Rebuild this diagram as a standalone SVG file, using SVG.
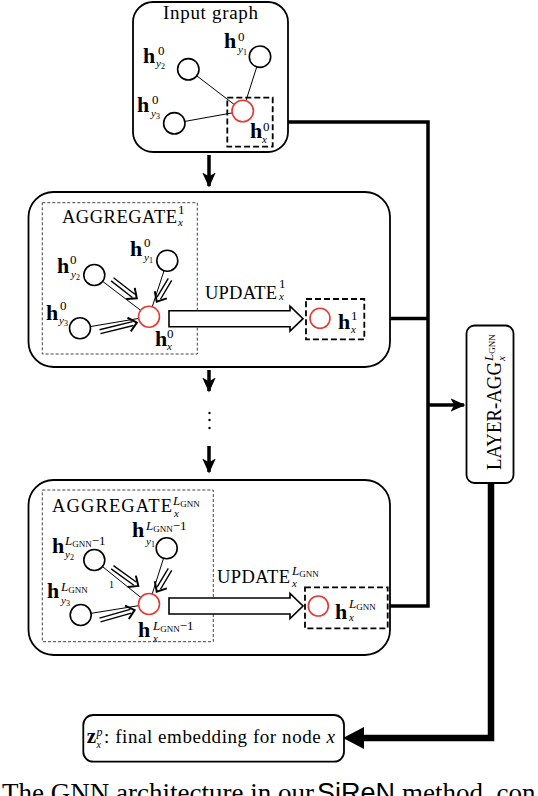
<svg xmlns="http://www.w3.org/2000/svg" width="538" height="796" viewBox="0 0 538 796">
<style>
.box{fill:#fff;stroke:#000;stroke-width:1.8}
.dash{fill:none;stroke:#000;stroke-width:1.8;stroke-dasharray:6 3}
.fdash{fill:none;stroke:#444;stroke-width:1;stroke-dasharray:3 2}
.nd{fill:#fff;stroke:#000;stroke-width:1.6}
.rd{fill:#fff;stroke:#e53935;stroke-width:1.6}
.edge{stroke:#000;stroke-width:1;fill:none}
.thick{fill:none;stroke:#000;stroke-width:3.5;stroke-linejoin:miter}
.dbl{fill:none;stroke:#000;stroke-width:1.4}
.dblh{fill:none;stroke:#000;stroke-width:2}
.upd{fill:#fff;stroke:#000;stroke-width:1.6}
.t{font-family:"Liberation Serif","DejaVu Serif",serif;fill:#000}
.h{font-weight:bold;font-size:22px}
.sup{font-size:13px}
.sub{font-size:11px;font-style:italic}
.ss{font-size:8px;font-style:normal}
.lbl{font-size:18.5px}
.it{font-style:italic}
.sc{font-size:9px}
</style>
<defs>
<marker id="arr" viewBox="0 0 10 10" refX="9" refY="5" markerWidth="15" markerHeight="15" markerUnits="userSpaceOnUse" orient="auto">
<path d="M0,0.5 L10,5 L0,9.5 L2.5,5 Z" fill="#000"/>
</marker>
</defs>
<rect width="538" height="796" fill="#fff"/>

<g id="connectors">
<path class="thick" d="M272,122 H428 V606 H388"/>
<path class="thick" d="M364,318.5 H428"/>
<line class="thick" x1="428" y1="405" x2="464" y2="405" marker-end="url(#arr)"/>
<line class="thick" x1="209" y1="155" x2="209" y2="186" marker-end="url(#arr)"/>
<line class="thick" x1="209" y1="370" x2="209" y2="391" marker-end="url(#arr)"/>
<line class="thick" x1="209" y1="446" x2="209" y2="472" marker-end="url(#arr)"/>
<path d="M491,483 V738 H360" fill="none" stroke="#000" stroke-width="6.5"/>
<path d="M364,727 L343,738 L364,749 Z" fill="#000"/>
<g id="vdots" fill="#000">
<circle cx="209.5" cy="413" r="1.2"/>
<circle cx="209.5" cy="420" r="1.2"/>
<circle cx="209.5" cy="428" r="1.2"/>
</g>
</g>

<g id="input-graph">
<rect class="box" x="133" y="2" width="155" height="150" rx="20"/>
<text class="t" x="163" y="19" font-size="19" textLength="95">Input graph</text>
<line class="edge" x1="188.3" y1="69.3" x2="242.7" y2="111"/>
<line class="edge" x1="260" y1="56.7" x2="242.7" y2="111"/>
<line class="edge" x1="174.3" y1="123.3" x2="242.7" y2="111"/>
<rect class="dash" x="227.3" y="97.7" width="45.4" height="49"/>
<circle class="nd" cx="188.3" cy="69.3" r="10.7"/>
<circle class="nd" cx="260" cy="56.7" r="10.7"/>
<circle class="nd" cx="174.3" cy="123.3" r="10.7"/>
<circle class="rd" cx="242.7" cy="111" r="10.7"/>
<text class="t h" x="143" y="63">h</text><text class="t sup" x="158" y="55">0</text><text class="t sub" x="156" y="67">y<tspan class="ss" dy="2">2</tspan></text>
<text class="t h" x="224" y="48">h</text><text class="t sup" x="238" y="41">0</text><text class="t sub" x="238" y="53">y<tspan class="ss" dy="2">1</tspan></text>
<text class="t h" x="137" y="112">h</text><text class="t sup" x="152" y="104">0</text><text class="t sub" x="151" y="117">y<tspan class="ss" dy="2">3</tspan></text>
<text class="t h" x="250" y="138">h</text><text class="t sup" x="263" y="131">0</text><text class="t sub" x="262" y="143">x</text>
</g>

<g id="layer-1">
<rect class="box" x="28.5" y="192" width="361.5" height="175" rx="25"/>
<rect class="fdash" x="42.3" y="202.7" width="155" height="151.3"/>
<text class="t lbl" x="62" y="223" textLength="115">AGGREGATE</text><text class="t sup" x="178" y="214">1</text><text class="t sub" x="178" y="226">x</text>
<line class="edge" x1="94.3" y1="275" x2="149" y2="316.7"/>
<line class="edge" x1="167.3" y1="260.7" x2="149" y2="316.7"/>
<line class="edge" x1="80" y1="328.3" x2="149" y2="316.7"/>
<circle class="nd" cx="94.3" cy="275" r="10.5"/>
<circle class="nd" cx="167.3" cy="260.7" r="10.5"/>
<circle class="nd" cx="80" cy="328.3" r="10.5"/>
<circle class="rd" cx="149" cy="316.7" r="10.5"/>
<g transform="translate(112.3,279.3) rotate(37.9)"><path class="dbl" d="M0,-2H27M0,2H27"/><path class="dblh" d="M23,-7L31,0L23,7"/></g>
<g transform="translate(170,279.3) rotate(120.7)"><path class="dbl" d="M0,-2H22M0,2H22"/><path class="dblh" d="M18,-7L26,0L18,7"/></g>
<g transform="translate(100,331.7) rotate(-13.8)"><path class="dbl" d="M0,-2H34M0,2H34"/><path class="dblh" d="M30,-7L38,0L30,7"/></g>
<text class="t h" x="57" y="273">h</text><text class="t sup" x="70" y="264">0</text><text class="t sub" x="71" y="278">y<tspan class="ss" dy="2">2</tspan></text>
<text class="t h" x="130" y="256">h</text><text class="t sup" x="144" y="247">0</text><text class="t sub" x="144" y="261">y<tspan class="ss" dy="2">1</tspan></text>
<text class="t h" x="46" y="320">h</text><text class="t sup" x="60" y="310">0</text><text class="t sub" x="59" y="324">y<tspan class="ss" dy="2">3</tspan></text>
<text class="t h" x="155" y="346">h</text><text class="t sup" x="167" y="338">0</text><text class="t sub" x="167" y="350">x</text>
<path class="upd" d="M169,310.7 H290 V306.2 L303,318.7 L290,331.2 V326.7 H169 Z"/>
<text class="t lbl" x="205" y="299" textLength="72">UPDATE</text><text class="t sup" x="279" y="288">1</text><text class="t sub" x="279" y="300">x</text>
<rect class="dash" x="306" y="299" width="58.3" height="40.3"/>
<circle class="rd" cx="320" cy="318.3" r="10"/>
<text class="t h" x="338" y="329">h</text><text class="t sup" x="351" y="320">1</text><text class="t sub" x="351" y="333">x</text>
</g>

<g id="layer-L">
<rect class="box" x="28.5" y="480" width="361.5" height="175" rx="25"/>
<rect class="fdash" x="42.3" y="490" width="171" height="151.7"/>
<text class="t lbl" x="52" y="512" textLength="120">AGGREGATE</text><text class="t sup" x="173" y="505"><tspan class="it">L</tspan><tspan class="sc" dy="1.5">GNN</tspan></text><text class="t sub" x="174" y="517">x</text>
<line class="edge" x1="94.3" y1="560" x2="149" y2="604"/>
<line class="edge" x1="166.7" y1="548.3" x2="149" y2="604"/>
<line class="edge" x1="80.7" y1="615" x2="149" y2="604"/>
<text class="t h" x="132" y="537">h</text><text class="t sup" x="146" y="530"><tspan class="it">L</tspan><tspan class="sc" dy="1.5">GNN</tspan><tspan dy="-1.5">−1</tspan></text><text class="t sub" x="146" y="545">y<tspan class="ss" dy="2">1</tspan></text>
<circle class="nd" cx="94.3" cy="560" r="10.5"/>
<circle class="nd" cx="166.7" cy="548.3" r="10.5"/>
<circle class="nd" cx="80.7" cy="615" r="10.5"/>
<circle class="rd" cx="149" cy="604" r="10.5"/>
<g transform="translate(112.3,567.3) rotate(35.7)"><path class="dbl" d="M0,-2H28M0,2H28"/><path class="dblh" d="M24,-7L32,0L24,7"/></g>
<g transform="translate(170,569.3) rotate(120.7)"><path class="dbl" d="M0,-2H22M0,2H22"/><path class="dblh" d="M18,-7L26,0L18,7"/></g>
<g transform="translate(100,620) rotate(-15.9)"><path class="dbl" d="M0,-2H32M0,2H32"/><path class="dblh" d="M28,-7L36,0L28,7"/></g>
<text class="t h" x="52" y="553">h</text><text class="t sup" x="65" y="545"><tspan class="it">L</tspan><tspan class="sc" dy="1.5">GNN</tspan><tspan dy="-1.5">−1</tspan></text><text class="t sub" x="65" y="558">y<tspan class="ss" dy="2">2</tspan></text>
<text class="t h" x="47" y="598">h</text><text class="t sup" x="61" y="591" fill="#555"><tspan class="it">L</tspan><tspan class="sc" dy="1.5">GNN</tspan></text><text class="t sub" x="61" y="604">y<tspan class="ss" dy="2">3</tspan></text>
<text class="t" x="109" y="588" font-size="10">1</text>
<text class="t h" x="138" y="637">h</text><text class="t sup" x="153" y="630"><tspan class="it">L</tspan><tspan class="sc" dy="1.5">GNN</tspan><tspan dy="-1.5">−1</tspan></text><text class="t sub" x="153" y="642">x</text>
<path class="upd" d="M169,598 H290 V593.5 L303,606 L290,618.5 V614 H169 Z"/>
<text class="t lbl" x="217" y="583" textLength="73">UPDATE</text><text class="t sup" x="292" y="575"><tspan class="it">L</tspan><tspan class="sc" dy="1.5">GNN</tspan></text><text class="t sub" x="292" y="587">x</text>
<rect class="dash" x="305" y="587.3" width="82.7" height="41"/>
<circle class="rd" cx="318.3" cy="606" r="10"/>
<text class="t h" x="335" y="619">h</text><text class="t sup" x="349" y="608"><tspan class="it">L</tspan><tspan class="sc" dy="1.5">GNN</tspan></text><text class="t sub" x="349" y="621">x</text>
</g>

<g id="layer-agg">
<rect class="box" x="466.5" y="325.5" width="47" height="157.5" rx="8"/>
<g transform="translate(501,470) rotate(-90)">
<text class="t" x="0" y="0" font-size="20" textLength="108" lengthAdjust="spacingAndGlyphs">LAYER-AGG</text>
<text class="t sup" x="109" y="-8"><tspan class="it">L</tspan><tspan class="sc" dy="1.5">GNN</tspan></text>
<text class="t sub" x="109" y="4">x</text>
</g>
</g>

<g id="final-embedding">
<rect class="box" x="83.3" y="715" width="260.7" height="46.7" rx="10"/>
<text class="t" x="86.7" y="743.3" font-size="21" font-weight="bold">z</text>
<text class="t" x="96.5" y="736" font-size="12" font-style="italic">p</text>
<text class="t" x="96.5" y="748" font-size="10" font-style="italic">x</text>
<text class="t" x="104" y="743.3" font-size="19" textLength="231">: final embedding for node <tspan class="it">x</tspan></text>
</g>

<g id="caption">
<text class="t" x="2" y="802" font-size="27">The GNN architecture in our</text>
<text x="317" y="802" font-family="'Liberation Sans','DejaVu Sans',sans-serif" font-size="27" textLength="78">SiReN</text>
<text class="t" x="402" y="802" font-size="27">method, con</text>
</g>
</svg>
